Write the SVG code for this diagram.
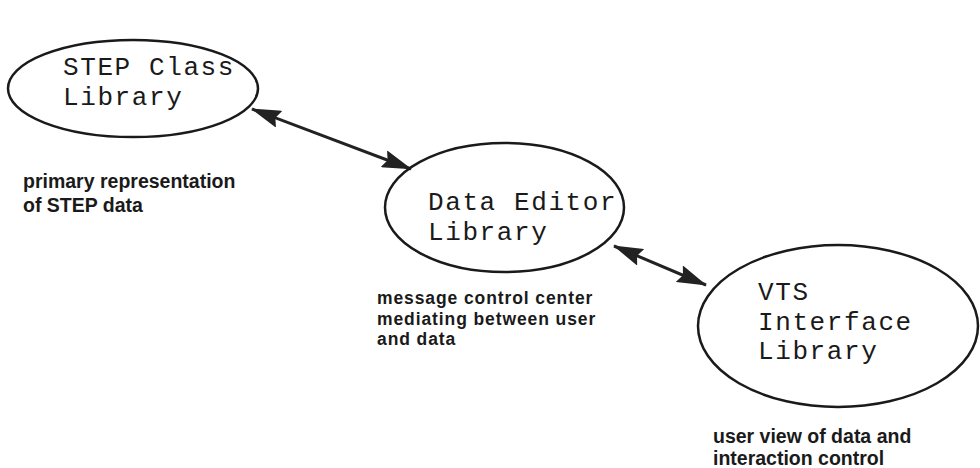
<svg xmlns="http://www.w3.org/2000/svg" width="980" height="468" viewBox="0 0 980 468">
  <style>
    .node { fill: none; stroke: #1a1a1a; stroke-width: 2.5; }
    .title { font-family: "Liberation Mono", "Courier New", monospace; font-size: 26px; letter-spacing: 1.6px; fill: #1a1a1a; }
    .note { font-family: "Liberation Sans", Arial, Helvetica, sans-serif; font-size: 19.5px; font-weight: bold; fill: #1a1a1a; }
    .note-tight { font-size: 17.5px; letter-spacing: 0.9px; }
    .conn { stroke: #222; stroke-width: 3; fill: none; marker-start: url(#head); marker-end: url(#head); }
  </style>
  <defs>
    <marker id="head" viewBox="0 0 30 18" refX="29" refY="9" markerWidth="30" markerHeight="18" markerUnits="userSpaceOnUse" orient="auto-start-reverse">
      <path d="M0,0 L30,9 L0,18 L4,9 z" fill="#222"/>
    </marker>
  </defs>
  <rect width="980" height="468" fill="#ffffff"/>

  <g id="connectors">
    <line class="conn" x1="252" y1="109" x2="411" y2="169"/>
    <line class="conn" x1="614" y1="246" x2="706" y2="285"/>
  </g>

  <g id="step-class-library">
    <ellipse class="node" cx="133" cy="88.5" rx="125" ry="48.5"/>
    <text class="title" x="63" y="75">STEP Class</text>
    <text class="title" x="63" y="105">Library</text>
  </g>

  <g id="data-editor-library">
    <ellipse class="node" cx="504.5" cy="207.5" rx="119.5" ry="64.5"/>
    <text class="title" x="428" y="210">Data Editor</text>
    <text class="title" x="428" y="240">Library</text>
  </g>

  <g id="vts-interface-library">
    <ellipse class="node" cx="838" cy="326" rx="140" ry="81"/>
    <text class="title" x="758" y="300">VTS</text>
    <text class="title" x="758" y="330">Interface</text>
    <text class="title" x="758" y="359">Library</text>
  </g>

  <g id="note-step">
    <text class="note" x="23" y="188">primary representation</text>
    <text class="note" x="23" y="212">of STEP data</text>
  </g>

  <g id="note-editor">
    <text class="note note-tight" x="377" y="304">message control center</text>
    <text class="note note-tight" x="377" y="324.5">mediating between user</text>
    <text class="note note-tight" x="377" y="345">and data</text>
  </g>

  <g id="note-vts">
    <text class="note" x="713" y="443">user view of data and</text>
    <text class="note" x="713" y="465">interaction control</text>
  </g>
</svg>
